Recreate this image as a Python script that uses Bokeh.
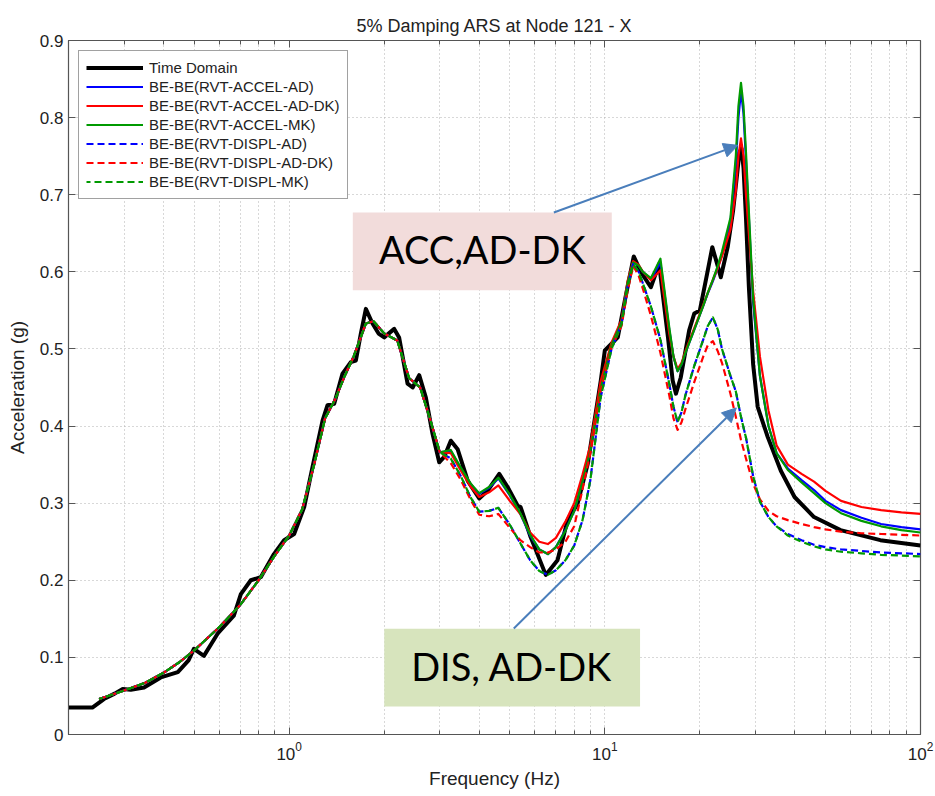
from bokeh.plotting import figure
from bokeh.models import (Range1d, LinearAxis, LogAxis, FixedTicker, BoxAnnotation,
                          Label, Arrow, NormalHead, Legend, LegendItem)
from bokeh.embed import file_html
from bokeh.resources import INLINE

# ---------------- data ----------------
td_freq = [0.200, 0.220, 0.238, 0.259, 0.280, 0.297, 0.315, 0.347, 0.392, 0.444,
           0.480, 0.499, 0.537, 0.594, 0.668, 0.703, 0.756, 0.813, 0.895, 0.964,
           1.037, 1.116, 1.186, 1.276, 1.323, 1.389, 1.476, 1.568, 1.627, 1.687,
           1.750, 1.837, 1.920, 2.000, 2.152, 2.230, 2.372, 2.462, 2.582, 2.711,
           2.846, 2.988, 3.098, 3.252, 3.417, 3.680, 4.000, 4.250, 4.630, 4.920,
           5.290, 5.410, 5.820, 6.500, 7.080, 7.620, 8.190, 8.830, 9.710, 10.00,
           10.99, 11.60, 12.35, 13.00, 13.99, 14.86, 15.85, 16.40, 16.80, 17.40,
           18.50, 19.20, 20.00, 21.10, 21.90, 22.70, 23.30, 24.50, 25.50, 26.30,
           26.70, 27.10, 27.50, 28.00, 28.60, 29.50, 30.50, 32.80, 36.10, 39.90,
           46.00, 55.80, 74.60, 100.0]
td_acc = [0.035, 0.035, 0.035, 0.046, 0.053, 0.059, 0.058, 0.061, 0.074, 0.081,
          0.096, 0.111, 0.102, 0.131, 0.154, 0.182, 0.200, 0.204, 0.234, 0.252,
          0.260, 0.295, 0.347, 0.407, 0.427, 0.429, 0.468, 0.483, 0.485, 0.520,
          0.552, 0.533, 0.520, 0.515, 0.526, 0.515, 0.455, 0.450, 0.466, 0.437,
          0.390, 0.353, 0.360, 0.381, 0.370, 0.329, 0.306, 0.316, 0.338, 0.321,
          0.297, 0.295, 0.256, 0.207, 0.226, 0.278, 0.299, 0.351, 0.459, 0.498,
          0.515, 0.565, 0.620, 0.600, 0.580, 0.610, 0.515, 0.459, 0.442, 0.463,
          0.524, 0.546, 0.550, 0.598, 0.632, 0.610, 0.593, 0.632, 0.680, 0.730,
          0.755, 0.760, 0.735, 0.670, 0.580, 0.480, 0.425, 0.386, 0.342, 0.308,
          0.282, 0.265, 0.252, 0.245]

rvt_freq = [0.25, 0.30, 0.35, 0.40, 0.45, 0.50, 0.60, 0.70, 0.80, 0.90,
            1.00, 1.10, 1.20, 1.30, 1.40, 1.50, 1.60, 1.75, 1.85, 2.00,
            2.20, 2.40, 2.60, 2.80, 3.00, 3.25, 3.50, 3.75, 4.00, 4.30,
            4.60, 5.00, 5.40, 5.80, 6.20, 6.60, 7.00, 7.50, 8.00, 8.50,
            9.00, 9.70, 10.5, 11.3, 11.8, 12.3, 12.8, 13.2, 14.0, 15.0,
            16.0, 16.5, 17.0, 17.5, 18.0, 19.2, 20.5, 21.2, 22.0, 22.8,
            23.5, 25.0, 26.0, 26.5, 27.0, 27.5, 28.0, 29.5, 31.0, 33.0,
            35.0, 38.0, 42.0, 46.0, 50.0, 56.0, 65.0, 75.0, 87.0, 100.0]

accel_ad = [0.046, 0.057, 0.067, 0.080, 0.094, 0.109, 0.139, 0.168, 0.200, 0.232,
            0.258, 0.292, 0.350, 0.410, 0.435, 0.465, 0.490, 0.533, 0.536, 0.520,
            0.511, 0.462, 0.450, 0.408, 0.366, 0.368, 0.345, 0.325, 0.312, 0.320,
            0.332, 0.310, 0.286, 0.258, 0.240, 0.234, 0.243, 0.265, 0.290, 0.328,
            0.368, 0.448, 0.505, 0.535, 0.585, 0.612, 0.608, 0.600, 0.590, 0.612,
            0.525, 0.490, 0.471, 0.480, 0.495, 0.525, 0.556, 0.572, 0.588, 0.605,
            0.622, 0.665, 0.740, 0.800, 0.835, 0.805, 0.745, 0.560, 0.465, 0.400,
            0.365, 0.345, 0.330, 0.317, 0.303, 0.291, 0.281, 0.273, 0.269, 0.266]
accel_ad_dk = [0.046, 0.057, 0.067, 0.080, 0.094, 0.109, 0.139, 0.168, 0.200, 0.232,
               0.258, 0.292, 0.350, 0.410, 0.435, 0.465, 0.490, 0.533, 0.536, 0.520,
               0.511, 0.462, 0.450, 0.408, 0.366, 0.365, 0.342, 0.322, 0.308, 0.314,
               0.323, 0.303, 0.286, 0.262, 0.250, 0.247, 0.255, 0.276, 0.300, 0.337,
               0.375, 0.458, 0.508, 0.538, 0.588, 0.614, 0.609, 0.600, 0.589, 0.602,
               0.520, 0.490, 0.474, 0.482, 0.497, 0.527, 0.557, 0.573, 0.590, 0.605,
               0.620, 0.655, 0.705, 0.750, 0.773, 0.750, 0.700, 0.575, 0.490, 0.420,
               0.375, 0.350, 0.338, 0.328, 0.316, 0.303, 0.295, 0.291, 0.288, 0.286]
accel_mk = [0.046, 0.057, 0.067, 0.080, 0.094, 0.109, 0.139, 0.168, 0.200, 0.232,
            0.258, 0.292, 0.350, 0.410, 0.435, 0.465, 0.490, 0.533, 0.536, 0.520,
            0.511, 0.462, 0.450, 0.408, 0.366, 0.369, 0.346, 0.326, 0.313, 0.321,
            0.333, 0.311, 0.287, 0.259, 0.240, 0.234, 0.243, 0.264, 0.290, 0.328,
            0.368, 0.448, 0.505, 0.535, 0.585, 0.612, 0.608, 0.600, 0.592, 0.617,
            0.528, 0.490, 0.471, 0.480, 0.495, 0.525, 0.556, 0.573, 0.590, 0.608,
            0.626, 0.670, 0.750, 0.815, 0.845, 0.815, 0.755, 0.565, 0.465, 0.400,
            0.365, 0.343, 0.327, 0.313, 0.300, 0.287, 0.277, 0.270, 0.265, 0.262]
displ_ad = [0.046, 0.057, 0.067, 0.080, 0.094, 0.109, 0.139, 0.168, 0.200, 0.232,
            0.258, 0.292, 0.350, 0.410, 0.435, 0.465, 0.490, 0.533, 0.536, 0.520,
            0.511, 0.462, 0.450, 0.408, 0.366, 0.358, 0.335, 0.308, 0.289, 0.290,
            0.294, 0.272, 0.248, 0.226, 0.212, 0.207, 0.213, 0.226, 0.245, 0.278,
            0.330, 0.437, 0.500, 0.532, 0.580, 0.610, 0.600, 0.585, 0.555, 0.512,
            0.455, 0.425, 0.405, 0.418, 0.440, 0.478, 0.512, 0.530, 0.541, 0.525,
            0.500, 0.465, 0.445, 0.428, 0.412, 0.398, 0.385, 0.335, 0.302, 0.282,
            0.270, 0.260, 0.252, 0.246, 0.243, 0.240, 0.238, 0.236, 0.235, 0.234]
displ_ad_dk = [0.046, 0.057, 0.067, 0.080, 0.094, 0.109, 0.139, 0.168, 0.200, 0.232,
               0.258, 0.292, 0.350, 0.410, 0.435, 0.465, 0.490, 0.533, 0.536, 0.520,
               0.511, 0.462, 0.450, 0.408, 0.366, 0.352, 0.330, 0.305, 0.285, 0.283,
               0.286, 0.268, 0.252, 0.243, 0.236, 0.236, 0.240, 0.250, 0.270, 0.318,
               0.365, 0.446, 0.502, 0.530, 0.575, 0.608, 0.595, 0.578, 0.543, 0.495,
               0.440, 0.410, 0.395, 0.405, 0.422, 0.457, 0.490, 0.505, 0.510, 0.497,
               0.482, 0.442, 0.412, 0.397, 0.382, 0.370, 0.358, 0.325, 0.305, 0.290,
               0.283, 0.278, 0.273, 0.269, 0.266, 0.263, 0.261, 0.260, 0.259, 0.258]
displ_mk = [0.046, 0.057, 0.067, 0.080, 0.094, 0.109, 0.139, 0.168, 0.200, 0.232,
            0.258, 0.292, 0.350, 0.410, 0.435, 0.465, 0.490, 0.533, 0.536, 0.520,
            0.511, 0.462, 0.450, 0.408, 0.366, 0.358, 0.335, 0.308, 0.289, 0.290,
            0.294, 0.272, 0.248, 0.226, 0.212, 0.207, 0.213, 0.226, 0.245, 0.278,
            0.330, 0.437, 0.500, 0.532, 0.580, 0.610, 0.600, 0.585, 0.555, 0.512,
            0.455, 0.425, 0.405, 0.418, 0.440, 0.478, 0.512, 0.530, 0.541, 0.525,
            0.500, 0.465, 0.445, 0.428, 0.412, 0.398, 0.385, 0.335, 0.302, 0.282,
            0.270, 0.258, 0.250, 0.244, 0.240, 0.237, 0.235, 0.233, 0.232, 0.231]

series_names = ["Time Domain", "BE-BE(RVT-ACCEL-AD)", "BE-BE(RVT-ACCEL-AD-DK)",
                "BE-BE(RVT-ACCEL-MK)", "BE-BE(RVT-DISPL-AD)", "BE-BE(RVT-DISPL-AD-DK)",
                "BE-BE(RVT-DISPL-MK)"]

x_major_ticks = [1, 10, 100]
x_major_labels = ["10\u2070", "10\u00b9", "10\u00b2"]
x_minor_ticks = [0.2, 0.3, 0.4, 0.5, 0.6, 0.7, 0.8, 0.9,
                 2, 3, 4, 5, 6, 7, 8, 9, 20, 30, 40, 50, 60, 70, 80, 90]
y_ticks = [0, 0.1, 0.2, 0.3, 0.4, 0.5, 0.6, 0.7, 0.8, 0.9]
y_labels = ["0", "0.1", "0.2", "0.3", "0.4", "0.5", "0.6", "0.7", "0.8", "0.9"]

acc_text = "ACC,AD-DK"
dis_text = "DIS, AD-DK"

# ---------------- figure ----------------
FONT = "Liberation Sans"
p = figure(width=935, height=796, x_axis_type="log",
           x_range=Range1d(0.2, 100), y_range=Range1d(0, 0.9),
           output_backend="svg", toolbar_location=None,
           min_border_left=68, min_border_right=15, min_border_top=40,
           min_border_bottom=62, title="5% Damping ARS at Node 121 - X",
           background_fill_color="white", border_fill_color="white")

p.title.align = "center"
p.title.text_font = FONT
p.title.text_font_size = "18px"
p.title.text_font_style = "normal"
p.title.text_color = "#222222"

p.outline_line_color = "#555555"
p.outline_line_width = 1.2

xt = FixedTicker(ticks=x_major_ticks, minor_ticks=x_minor_ticks)
yt = FixedTicker(ticks=y_ticks, minor_ticks=[])

p.xaxis.ticker = xt
p.yaxis.ticker = yt
p.xaxis.major_label_overrides = {str(t): l for t, l in zip(x_major_ticks, x_major_labels)}
p.yaxis.major_label_overrides = {str(t): l for t, l in zip(y_ticks, y_labels)}

p.xaxis.axis_label = "Frequency (Hz)"
p.yaxis.axis_label = "Acceleration (g)"
for ax in [p.xaxis[0], p.yaxis[0]]:
    ax.axis_label_text_font = FONT
    ax.axis_label_text_font_size = "19px"
    ax.axis_label_text_font_style = "normal"
    ax.axis_label_text_color = "#222222"
    ax.major_label_text_font = FONT
    ax.major_label_text_font_size = "17px"
    ax.major_label_text_color = "#222222"
    ax.axis_line_color = "#555555"
    ax.major_tick_in = 7
    ax.major_tick_out = 0
    ax.minor_tick_in = 4
    ax.minor_tick_out = 0
    ax.major_tick_line_color = "#555555"
    ax.minor_tick_line_color = "#555555"
p.yaxis.minor_tick_line_color = None
p.xaxis.major_label_standoff = 7
p.xaxis.axis_label_standoff = 5
p.yaxis.major_label_standoff = 5
p.yaxis.axis_label_standoff = 9

# tick marks on the top and right edges (box style)
top_ax = LogAxis(ticker=xt, major_label_text_font_size="1px",
                 major_label_text_color=None, axis_line_color=None,
                 major_tick_in=7, major_tick_out=0, minor_tick_in=4, minor_tick_out=0,
                 major_tick_line_color="#555555", minor_tick_line_color="#555555",
                 major_label_standoff=0)
right_ax = LinearAxis(ticker=yt, major_label_text_font_size="1px",
                      major_label_text_color=None, axis_line_color=None,
                      major_tick_in=7, major_tick_out=0,
                      major_tick_line_color="#555555", minor_tick_line_color=None,
                      major_label_standoff=0)
p.add_layout(top_ax, "above")
p.add_layout(right_ax, "right")

# grid: dotted major + minor
p.xgrid.grid_line_color = "#b0b0b0"
p.xgrid.grid_line_dash = "1 3"
p.xgrid.minor_grid_line_color = "#b0b0b0"
p.xgrid.minor_grid_line_dash = "1 3"
p.ygrid.grid_line_color = "#b0b0b0"
p.ygrid.grid_line_dash = "1 3"

# ---------------- curves ----------------
GREEN = "#009a00"
r_td = p.line(td_freq, td_acc, line_color="black", line_width=4, line_join="round")
r1 = p.line(rvt_freq, accel_ad, line_color="#0000ff", line_width=2.2, line_join="round")
r2 = p.line(rvt_freq, accel_ad_dk, line_color="#ff0000", line_width=2.2, line_join="round")
r3 = p.line(rvt_freq, accel_mk, line_color=GREEN, line_width=2.2, line_join="round")
r4 = p.line(rvt_freq, displ_ad, line_color="#0000ff", line_width=2.2, line_dash="7 4",
            line_join="round")
r5 = p.line(rvt_freq, displ_ad_dk, line_color="#ff0000", line_width=2.2, line_dash="7 4",
            line_join="round")
r6 = p.line(rvt_freq, displ_mk, line_color=GREEN, line_width=2.2, line_dash="7 4",
            line_dash_offset=3, line_join="round")

leg = Legend(items=[LegendItem(label=n, renderers=[r])
                    for n, r in zip(series_names, [r_td, r1, r2, r3, r4, r5, r6])],
             location="top_left", margin=10, padding=7, spacing=0,
             label_height=19, glyph_height=19, glyph_width=57, label_standoff=6,
             label_text_font=FONT, label_text_font_size="15px",
             label_text_color="#222222", border_line_color="#444444",
             border_line_width=1, background_fill_color="white",
             background_fill_alpha=1)
p.add_layout(leg, "center")

# ---------------- annotation boxes & arrows ----------------
ARROW = "#4a7ebb"
p.add_layout(BoxAnnotation(left=1.591, right=10.52, bottom=0.576, top=0.677,
                           fill_color="#f2dcdb", fill_alpha=1, line_color=None))
p.add_layout(BoxAnnotation(left=2.001, right=12.93, bottom=0.0363, top=0.137,
                           fill_color="#d7e4bd", fill_alpha=1, line_color=None))
p.add_layout(Label(x=4.09, y=0.630, text=acc_text, text_align="center",
                   text_baseline="middle", text_font="Lato", text_font_size="38px",
                   text_color="black"))
p.add_layout(Label(x=5.075, y=0.089, text=dis_text, text_align="center",
                   text_baseline="middle", text_font="Lato", text_font_size="38px",
                   text_color="black"))
p.add_layout(Arrow(end=NormalHead(size=14, fill_color=ARROW, line_color=ARROW),
                   x_start=6.895, y_start=0.677, x_end=26.38, y_end=0.764,
                   line_color=ARROW, line_width=2))
p.add_layout(Arrow(end=NormalHead(size=14, fill_color=ARROW, line_color=ARROW),
                   x_start=5.148, y_start=0.1375, x_end=26.09, y_end=0.4235,
                   line_color=ARROW, line_width=2))

open("out.html", "w").write(file_html(p, INLINE))
